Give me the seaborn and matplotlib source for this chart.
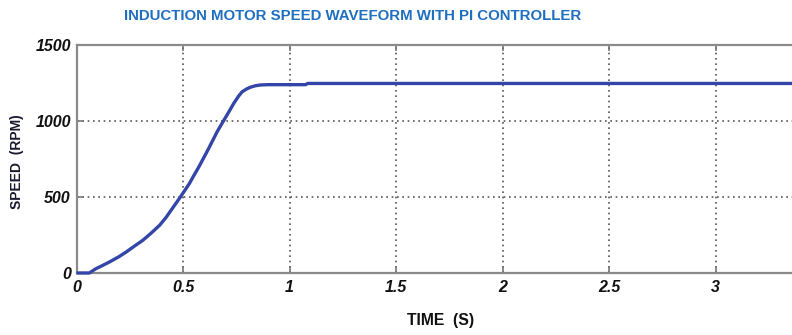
import numpy as np
import pandas as pd
import matplotlib
matplotlib.use("Agg")
import matplotlib.pyplot as plt
from matplotlib import font_manager
import seaborn as sns

# Data (time in s, speed in RPM)
time_s = [0.0, 0.03, 0.06, 0.092, 0.12, 0.154, 0.2, 0.233, 0.27, 0.311, 0.35, 0.39,
          0.42, 0.45, 0.49, 0.53, 0.549, 0.575, 0.612, 0.635, 0.66, 0.69, 0.715,
          0.738, 0.76, 0.777, 0.80, 0.816, 0.84, 0.863, 0.9, 1.075, 1.085, 1.5,
          2.0, 2.5, 3.0, 3.4]
speed_rpm = [0, 0, 0, 29, 48, 72, 108, 138, 175, 215, 262, 314,
             365, 425, 505, 589, 637, 700, 797, 860, 929, 1001, 1060,
             1116, 1162, 1192, 1212, 1222, 1232, 1237, 1239, 1239, 1247, 1247,
             1247, 1247, 1247, 1247]
x_ticks = [0, 0.5, 1, 1.5, 2, 2.5, 3]
x_tick_labels = ["0", "0.5", "1", "1.5", "2", "2.5", "3"]
y_ticks = [0, 500, 1000, 1500]
y_tick_labels = ["0", "500", "1000", "1500"]

df = pd.DataFrame({"time": time_s, "speed": speed_rpm})

sns.set_theme(style="white")
plt.rcParams["font.family"] = ["Liberation Sans", "DejaVu Sans"]

names = {f.name for f in font_manager.fontManager.ttflist}
has_narrow = "Liberation Sans Narrow" in names
narrow = ["Liberation Sans Narrow", "Liberation Sans", "DejaVu Sans"]
scale = 1 / 0.82 if has_narrow else 1.0

fig = plt.figure(figsize=(7.92, 3.35), dpi=100)
ax = fig.add_axes([76.5 / 792, 1 - 273 / 335, 1 - 76.5 / 792 + 0.002, (273 - 45) / 335])

sns.lineplot(data=df, x="time", y="speed", ax=ax, color="#3346a8", linewidth=2.4)
for ln in ax.lines:
    ln.set_clip_on(False)
    ln.set_zorder(5)
    ln.set_solid_capstyle("butt")

ax.set_xlim(0, (792 - 76.5) / 212.6)
ax.set_ylim(0, 1500)
ax.set_xticks(x_ticks)
ax.set_xticklabels(x_tick_labels, fontsize=11.5, fontweight="bold", fontstyle="italic", color="#111111")
ax.set_yticks(y_ticks)
ax.set_yticklabels(y_tick_labels, fontsize=11.5, fontweight="bold", fontstyle="italic", color="#111111")
ax.tick_params(axis="both", which="both", length=4, width=1.2, color="#777777", direction="in",
               pad=4, top=True, bottom=True, left=True)
ax.tick_params(axis="x", pad=5)

ax.grid(True, linestyle=(0, (1, 2.2)), color="#555555", linewidth=1.2)

for side in ["left", "bottom", "top"]:
    ax.spines[side].set_visible(True)
    ax.spines[side].set_color("#8a8a8a")
    ax.spines[side].set_linewidth(1.6)
ax.spines["right"].set_visible(False)

ax.set_xlabel("")
ax.set_ylabel("")
fig.text(441 / 792, 1 - 321 / 335, "TIME  (S)", ha="center", va="center",
         fontsize=11.3 * scale, fontweight="bold", color="#111111", family=narrow)
fig.text(17 / 792, 1 - 162 / 335, "SPEED  (RPM)", ha="center", va="center", rotation=90,
         fontsize=10 * scale, fontweight="bold", color="#1a1a2e", family=narrow)
fig.text(353 / 792, 1 - 16 / 335, "INDUCTION MOTOR SPEED WAVEFORM WITH PI CONTROLLER",
         ha="center", va="center", fontsize=10.8 * scale, fontweight="bold", color="#1f6fc0",
         family=narrow)

fig.savefig("out.png", dpi=100)
